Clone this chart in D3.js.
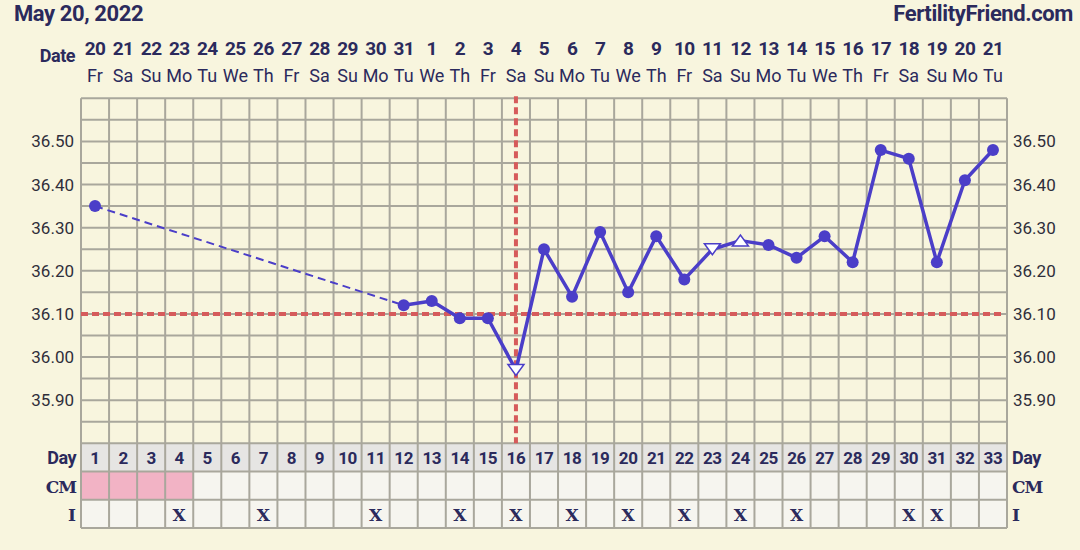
<!DOCTYPE html>
<html>
<head>
<meta charset="utf-8">
<script src="https://cdn.jsdelivr.net/npm/d3@7"></script>
<style>
  body { margin: 0; background: #f8f5de; }
  svg { display: block; }
</style>
</head>
<body>
<div id="chart-container"></div>
<script>
// chart data
const titleText = 'May 20, 2022';
const brandText = 'FertilityFriend.com';
const cycleDays = [1, 2, 3, 4, 5, 6, 7, 8, 9, 10, 11, 12, 13, 14, 15, 16, 17,
                   18, 19, 20, 21, 22, 23, 24, 25, 26, 27, 28, 29, 30, 31, 32, 33];
const dateLabels = ['20', '21', '22', '23', '24', '25', '26', '27', '28', '29', '30', '31',
                    '1', '2', '3', '4', '5', '6', '7', '8', '9', '10', '11', '12', '13',
                    '14', '15', '16', '17', '18', '19', '20', '21'];
const weekdayLabels = ['Fr', 'Sa', 'Su', 'Mo', 'Tu', 'We', 'Th', 'Fr', 'Sa', 'Su', 'Mo',
                       'Tu', 'We', 'Th', 'Fr', 'Sa', 'Su', 'Mo', 'Tu', 'We', 'Th', 'Fr',
                       'Sa', 'Su', 'Mo', 'Tu', 'We', 'Th', 'Fr', 'Sa', 'Su', 'Mo', 'Tu'];
// temperatures (null = not recorded)
const temps = [36.35, null, null, null, null, null, null, null, null, null, null,
               36.12, 36.13, 36.09, 36.09, 35.97, 36.25, 36.14, 36.29, 36.15, 36.28,
               36.18, 36.25, 36.27, 36.26, 36.23, 36.28, 36.22, 36.48, 36.46, 36.22,
               36.41, 36.48];
// marker type per day: c = dot, d = open triangle down, u = open triangle up
const markerTypes = ['c', '', '', '', '', '', '', '', '', '', '',
                     'c', 'c', 'c', 'c', 'd', 'c', 'c', 'c', 'c', 'c',
                     'c', 'd', 'u', 'c', 'c', 'c', 'c', 'c', 'c', 'c',
                     'c', 'c'];
const yTickLabels = [35.90, 36.00, 36.10, 36.20, 36.30, 36.40, 36.50];
const coverline = 36.10;
const ovulationDay = 16;
const cmPinkDays = [1, 2, 3, 4];
const intercourseDays = [4, 7, 11, 14, 16, 18, 20, 22, 24, 26, 30, 31];

const width = 1080, height = 550;
const plotLeft = 81, plotRight = 1007, plotTop = 98.3, plotBottom = 443.3;
const rowH = 28.2;
const navy = '#2b2a5c';
const purple = '#4b3ec8';
const red = '#d65b5b';
const gridColor = '#a9a79c';

const svg = d3.select('#chart-container')
  .append('svg')
  .attr('width', width)
  .attr('height', height);

const x = d3.scaleBand()
  .domain(cycleDays)
  .range([plotLeft, plotRight])
  .padding(0);
const cx = d => x(d) + x.bandwidth() / 2;

const y = d3.scaleLinear()
  .domain([35.80, 36.60])
  .range([plotBottom, plotTop]);

// header texts
svg.append('text')
  .attr('x', 14).attr('y', 21)
  .attr('font-family', 'Roboto').attr('font-weight', 700).attr('font-size', 22)
  .attr('letter-spacing', -0.4)
  .attr('fill', navy)
  .text(titleText);
svg.append('text')
  .attr('x', 1073).attr('y', 21)
  .attr('text-anchor', 'end')
  .attr('font-family', 'Roboto').attr('font-weight', 700).attr('font-size', 22)
  .attr('letter-spacing', -0.4)
  .attr('fill', navy)
  .text(brandText);
svg.append('text')
  .attr('x', 75).attr('y', 62)
  .attr('text-anchor', 'end')
  .attr('font-family', 'Roboto').attr('font-weight', 700).attr('font-size', 18)
  .attr('letter-spacing', -0.5)
  .attr('fill', navy)
  .text('Date');

// date + weekday rows
const dateAxis = svg.append('g')
  .attr('transform', 'translate(0,55)')
  .call(d3.axisTop(x).tickSize(0).tickPadding(0).tickFormat((d, i) => dateLabels[i]));
dateAxis.select('.domain').remove();
dateAxis.selectAll('text')
  .attr('font-family', 'Roboto').attr('font-weight', 700).attr('font-size', 19)
  .attr('letter-spacing', -0.6)
  .attr('dy', 0)
  .attr('fill', navy);

const wdAxis = svg.append('g')
  .attr('transform', 'translate(0,82)')
  .call(d3.axisTop(x).tickSize(0).tickPadding(0).tickFormat((d, i) => weekdayLabels[i]));
wdAxis.select('.domain').remove();
wdAxis.selectAll('text')
  .attr('font-family', 'Roboto').attr('font-size', 18)
  .attr('dy', 0)
  .attr('fill', navy);

// table backgrounds
const rows = svg.append('g');
rows.append('rect')
  .attr('x', plotLeft).attr('y', plotBottom)
  .attr('width', plotRight - plotLeft).attr('height', rowH)
  .attr('fill', '#e6e5e3');
rows.append('rect')
  .attr('x', plotLeft).attr('y', plotBottom + rowH)
  .attr('width', plotRight - plotLeft).attr('height', rowH * 2)
  .attr('fill', '#f6f5ef');
rows.selectAll('.pink')
  .data(cmPinkDays)
  .enter()
  .append('rect')
  .attr('class', 'pink')
  .attr('x', d => x(d)).attr('y', plotBottom + rowH)
  .attr('width', x.bandwidth()).attr('height', rowH)
  .attr('fill', '#f2b3c5');

// grid
const grid = svg.append('g').attr('stroke', gridColor).attr('stroke-width', 2);
grid.selectAll('.hg')
  .data(d3.range(0, 17).map(i => 35.80 + i * 0.05))
  .enter()
  .append('line')
  .attr('x1', plotLeft).attr('x2', plotRight)
  .attr('y1', d => y(d)).attr('y2', d => y(d));
grid.selectAll('.rg')
  .data([1, 2, 3])
  .enter()
  .append('line')
  .attr('x1', plotLeft).attr('x2', plotRight)
  .attr('y1', d => plotBottom + d * rowH).attr('y2', d => plotBottom + d * rowH);
grid.selectAll('.vg')
  .data(cycleDays.concat(['end']))
  .enter()
  .append('line')
  .attr('x1', d => d === 'end' ? plotRight : x(d))
  .attr('x2', d => d === 'end' ? plotRight : x(d))
  .attr('y1', plotTop).attr('y2', plotBottom + 3 * rowH);

// y axis labels
const yLeft = svg.append('g')
  .attr('transform', `translate(${plotLeft - 7},0)`)
  .call(d3.axisLeft(y).tickValues(yTickLabels).tickSize(0).tickPadding(0).tickFormat(d3.format('.2f')));
const yRight = svg.append('g')
  .attr('transform', `translate(${plotRight + 6},0)`)
  .call(d3.axisRight(y).tickValues(yTickLabels).tickSize(0).tickPadding(0).tickFormat(d3.format('.2f')));
[yLeft, yRight].forEach(g => {
  g.select('.domain').remove();
  g.selectAll('text')
    .attr('font-family', 'Roboto').attr('font-size', 17)
    .attr('fill', '#2f2e3a');
});

// coverline and ovulation line
svg.append('line')
  .attr('x1', plotLeft).attr('x2', plotRight - 6)
  .attr('y1', y(coverline)).attr('y2', y(coverline))
  .attr('stroke', red).attr('stroke-width', 4)
  .attr('stroke-dasharray', '7,4');
svg.append('line')
  .attr('x1', cx(ovulationDay)).attr('x2', cx(ovulationDay))
  .attr('y1', plotTop - 2).attr('y2', plotBottom)
  .attr('stroke', red).attr('stroke-width', 4)
  .attr('stroke-dasharray', '7,4');

// temperature line
const pts = cycleDays
  .map((d, i) => ({ day: d, value: temps[i], marker: markerTypes[i] }))
  .filter(p => p.value !== null);

const line = d3.line()
  .x(d => cx(d.day))
  .y(d => y(d.value));

const runs = [];
pts.forEach((p, i) => {
  if (i === 0) return;
  const prev = pts[i - 1];
  const dashed = p.day - prev.day > 1;
  const last = runs[runs.length - 1];
  if (last && !last.dashed && !dashed) last.pts.push(p);
  else runs.push({ dashed, pts: [prev, p] });
});

svg.selectAll('.seg')
  .data(runs)
  .enter()
  .append('path')
  .attr('class', 'seg')
  .attr('fill', 'none')
  .attr('stroke', purple)
  .attr('stroke-linejoin', 'round')
  .attr('stroke-width', d => d.dashed ? 2 : 3.5)
  .attr('stroke-dasharray', d => d.dashed ? '8,5' : null)
  .attr('d', d => line(d.pts));

// markers
svg.selectAll('.dot')
  .data(pts.filter(p => p.marker === 'c'))
  .enter()
  .append('circle')
  .attr('cx', d => cx(d.day))
  .attr('cy', d => y(d.value))
  .attr('r', 6)
  .attr('fill', purple);

const tri = (dir) => dir === 'd' ? 'M-8,-5.5L8,-5.5L0,5.5Z' : 'M-8,5.5L8,5.5L0,-5.5Z';
svg.selectAll('.tri')
  .data(pts.filter(p => p.marker === 'd' || p.marker === 'u'))
  .enter()
  .append('path')
  .attr('transform', d => `translate(${cx(d.day)},${y(d.value)})`)
  .attr('d', d => tri(d.marker))
  .attr('fill', '#ffffff')
  .attr('stroke', purple)
  .attr('stroke-width', 1.5);

// table texts
const dayRow = svg.append('g')
  .attr('transform', `translate(0,${plotBottom + 20.5})`)
  .call(d3.axisTop(x).tickSize(0).tickPadding(0));
dayRow.select('.domain').remove();
dayRow.selectAll('text')
  .attr('font-family', 'Roboto').attr('font-weight', 700).attr('font-size', 17)
  .attr('letter-spacing', -0.4)
  .attr('dy', 0)
  .attr('fill', navy);

svg.selectAll('.xmark')
  .data(intercourseDays)
  .enter()
  .append('text')
  .attr('x', d => cx(d))
  .attr('y', plotBottom + 2 * rowH + 21)
  .attr('text-anchor', 'middle')
  .attr('font-family', 'DejaVu Serif').attr('font-weight', 700).attr('font-size', 17)
  .attr('fill', navy)
  .text('X');

const rowLabels = [
  { text: 'Day', row: 0, font: 'Roboto', size: 18, ls: -0.5 },
  { text: 'CM', row: 1, font: 'DejaVu Serif', size: 17, ls: -1 },
  { text: 'I', row: 2, font: 'DejaVu Serif', size: 17, ls: 0 }
];
rowLabels.forEach(r => {
  [{ xx: 76, anchor: 'end' }, { xx: 1012, anchor: 'start' }].forEach(s => {
    svg.append('text')
      .attr('x', s.xx)
      .attr('y', plotBottom + r.row * rowH + 21)
      .attr('text-anchor', s.anchor)
      .attr('font-family', r.font).attr('font-weight', 700).attr('font-size', r.size)
      .attr('letter-spacing', r.ls)
      .attr('fill', navy)
      .text(r.text);
  });
});
</script>
</body>
</html>
